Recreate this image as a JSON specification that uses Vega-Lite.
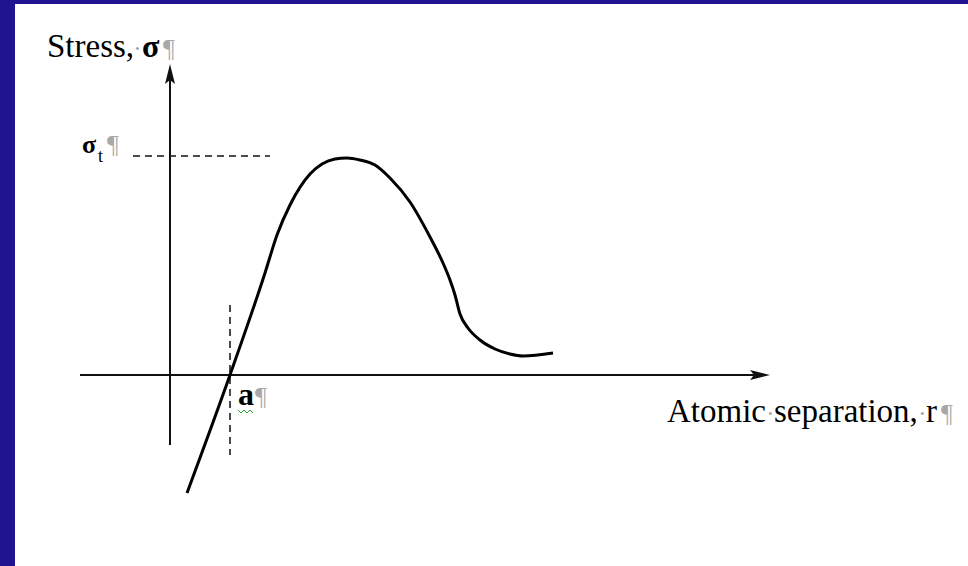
{
  "$schema": "https://vega.github.io/schema/vega-lite/v6.json",
  "width": 968,
  "height": 566,
  "autosize": {"type": "fit", "contains": "padding"},
  "padding": {"left": 15, "top": 4, "right": 0, "bottom": 0},
  "background": "#201490",
  "config": {"view": {"fill": "white", "stroke": null}},
  "datasets": {
    "segments": [
      {"kind": "axis", "x": 0, "y": -70, "x2": 0, "y2": 296},
      {"kind": "axis", "x": -90, "y": 0, "x2": 592, "y2": 0},
      {"kind": "guide", "x": -37, "y": 219, "x2": 100, "y2": 219},
      {"kind": "guide", "x": 60, "y": 70, "x2": 60, "y2": -80}
    ],
    "arrows": [
      {"dir": "up", "x": 0, "y": 301},
      {"dir": "right", "x": 590, "y": 0}
    ],
    "curve": [
      {"r": 17, "s": -118},
      {"r": 60, "s": 0},
      {"r": 95, "s": 102},
      {"r": 107, "s": 140},
      {"r": 120, "s": 170},
      {"r": 140, "s": 201},
      {"r": 152, "s": 211},
      {"r": 165, "s": 216},
      {"r": 177, "s": 217},
      {"r": 190, "s": 215},
      {"r": 205, "s": 210},
      {"r": 220, "s": 197},
      {"r": 240, "s": 173},
      {"r": 260, "s": 138},
      {"r": 273, "s": 112},
      {"r": 280, "s": 95},
      {"r": 285, "s": 80},
      {"r": 290, "s": 61},
      {"r": 298, "s": 47},
      {"r": 310, "s": 35},
      {"r": 325, "s": 26},
      {"r": 340, "s": 21},
      {"r": 353, "s": 19},
      {"r": 383, "s": 22}
    ],
    "squiggle": [
      {"r": 68, "s": -35},
      {"r": 71, "s": -38},
      {"r": 74, "s": -35},
      {"r": 77, "s": -38},
      {"r": 80, "s": -35},
      {"r": 83, "s": -38}
    ],
    "labels": [
      {"kind": "main", "t": "Stress,", "x": -123, "y": 318},
      {"kind": "mark", "t": "·", "x": -37, "y": 318},
      {"kind": "greek", "t": "σ", "x": -28, "y": 318},
      {"kind": "mark", "t": "¶", "x": -7, "y": 318},
      {"kind": "greeksmall", "t": "σ", "x": -88, "y": 222},
      {"kind": "sub", "t": "t", "x": -72, "y": 213},
      {"kind": "mark", "t": "¶", "x": -63, "y": 222},
      {"kind": "bold", "t": "a", "x": 68, "y": -30},
      {"kind": "mark", "t": "¶", "x": 85, "y": -30},
      {"kind": "main", "t": "Atomic", "x": 497, "y": -47},
      {"kind": "mark", "t": "·", "x": 596, "y": -47},
      {"kind": "main", "t": "separation,", "x": 604, "y": -47},
      {"kind": "mark", "t": "·", "x": 748, "y": -47},
      {"kind": "main", "t": "r", "x": 756, "y": -47},
      {"kind": "mark", "t": "¶", "x": 771, "y": -47}
    ]
  },
  "layer": [
    {
      "data": {"name": "segments"},
      "transform": [{"filter": "datum.kind === 'axis'"}],
      "mark": {"type": "rule", "color": "#111111", "strokeWidth": 2},
      "encoding": {
        "x": {"field": "x", "type": "quantitative", "scale": {"domain": [-155, 798], "nice": false, "zero": false}, "axis": null},
        "y": {"field": "y", "type": "quantitative", "scale": {"domain": [-191, 371], "nice": false, "zero": false}, "axis": null},
        "x2": {"field": "x2"},
        "y2": {"field": "y2"}
      }
    },
    {
      "data": {"name": "segments"},
      "transform": [{"filter": "datum.kind === 'guide'"}],
      "mark": {"type": "rule", "color": "#111111", "strokeWidth": 1.5, "strokeDash": [7, 5]},
      "encoding": {
        "x": {"field": "x", "type": "quantitative"},
        "y": {"field": "y", "type": "quantitative"},
        "x2": {"field": "x2"},
        "y2": {"field": "y2"}
      }
    },
    {
      "data": {"name": "arrows"},
      "transform": [{"filter": "datum.dir === 'up'"}],
      "mark": {"type": "point", "filled": true, "color": "#111111", "opacity": 1, "size": 400, "shape": "M0,-1L0.5,1L0,0.6L-0.5,1Z"},
      "encoding": {
        "x": {"field": "x", "type": "quantitative"},
        "y": {"field": "y", "type": "quantitative"}
      }
    },
    {
      "data": {"name": "arrows"},
      "transform": [{"filter": "datum.dir === 'right'"}],
      "mark": {"type": "point", "filled": true, "color": "#111111", "opacity": 1, "size": 400, "shape": "M1,0L-1,0.5L-0.6,0L-1,-0.5Z"},
      "encoding": {
        "x": {"field": "x", "type": "quantitative"},
        "y": {"field": "y", "type": "quantitative"}
      }
    },
    {
      "data": {"name": "curve"},
      "mark": {"type": "line", "color": "#000000", "strokeWidth": 3, "interpolate": "monotone"},
      "encoding": {
        "x": {"field": "r", "type": "quantitative"},
        "y": {"field": "s", "type": "quantitative"}
      }
    },
    {
      "data": {"name": "squiggle"},
      "mark": {"type": "line", "color": "#2ea02e", "strokeWidth": 1},
      "encoding": {
        "x": {"field": "r", "type": "quantitative"},
        "y": {"field": "s", "type": "quantitative"}
      }
    },
    {
      "data": {"name": "labels"},
      "transform": [{"filter": "datum.kind === 'main'"}],
      "mark": {"type": "text", "font": "Liberation Serif", "fontSize": 33, "color": "#000000", "align": "left", "baseline": "alphabetic"},
      "encoding": {
        "x": {"field": "x", "type": "quantitative"},
        "y": {"field": "y", "type": "quantitative"},
        "text": {"field": "t"}
      }
    },
    {
      "data": {"name": "labels"},
      "transform": [{"filter": "datum.kind === 'greek' || datum.kind === 'bold'"}],
      "mark": {"type": "text", "font": "Liberation Serif", "fontSize": 32, "fontWeight": "bold", "color": "#000000", "align": "left", "baseline": "alphabetic"},
      "encoding": {
        "x": {"field": "x", "type": "quantitative"},
        "y": {"field": "y", "type": "quantitative"},
        "text": {"field": "t"}
      }
    },
    {
      "data": {"name": "labels"},
      "transform": [{"filter": "datum.kind === 'greeksmall'"}],
      "mark": {"type": "text", "font": "Liberation Serif", "fontSize": 26, "fontWeight": "bold", "color": "#000000", "align": "left", "baseline": "alphabetic"},
      "encoding": {
        "x": {"field": "x", "type": "quantitative"},
        "y": {"field": "y", "type": "quantitative"},
        "text": {"field": "t"}
      }
    },
    {
      "data": {"name": "labels"},
      "transform": [{"filter": "datum.kind === 'sub'"}],
      "mark": {"type": "text", "font": "Liberation Serif", "fontSize": 18, "color": "#000000", "align": "left", "baseline": "alphabetic"},
      "encoding": {
        "x": {"field": "x", "type": "quantitative"},
        "y": {"field": "y", "type": "quantitative"},
        "text": {"field": "t"}
      }
    },
    {
      "data": {"name": "labels"},
      "transform": [{"filter": "datum.kind === 'mark'"}],
      "mark": {"type": "text", "font": "Liberation Serif", "fontSize": 26, "color": "#a8a8a8", "align": "left", "baseline": "alphabetic"},
      "encoding": {
        "x": {"field": "x", "type": "quantitative"},
        "y": {"field": "y", "type": "quantitative"},
        "text": {"field": "t"}
      }
    }
  ]
}
